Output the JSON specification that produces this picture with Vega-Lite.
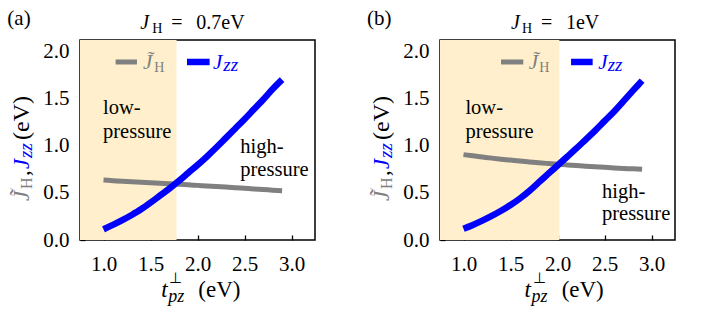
{
  "$schema": "https://vega.github.io/schema/vega-lite/v6.json",
  "background": "white",
  "padding": {"left": 6, "top": 7, "right": 0, "bottom": 0},
  "spacing": 125,
  "bounds": "flush",
  "config": {
    "font": "Liberation Serif",
    "view": {"stroke": "black", "strokeWidth": 1.5},
    "axis": {"domain": false, "grid": false, "tickSize": -5, "tickColor": "black", "tickWidth": 1.3, "labelFont": "Liberation Serif", "labelFontSize": 21, "labelColor": "black", "labelFlush": false, "labelOverlap": false},
    "axisY": {"labelPadding": 16},
    "axisX": {"labelPadding": 18},
    "text": {"font": "Liberation Serif", "fontSize": 20, "color": "black", "align": "left", "baseline": "alphabetic"}
  },
  "datasets": {
    "regions": [
      {"panel": "a", "start": 0.75, "end": 1.777},
      {"panel": "b", "start": 0.75, "end": 2.02}
    ],
    "curves": [
      {"panel": "a", "t": 1.0, "Jh": 0.635, "Jzz": 0.113},
      {"panel": "a", "t": 1.1, "Jh": 0.629, "Jzz": 0.16},
      {"panel": "a", "t": 1.2, "Jh": 0.623, "Jzz": 0.21},
      {"panel": "a", "t": 1.3, "Jh": 0.618, "Jzz": 0.265},
      {"panel": "a", "t": 1.4, "Jh": 0.612, "Jzz": 0.325},
      {"panel": "a", "t": 1.5, "Jh": 0.607, "Jzz": 0.395},
      {"panel": "a", "t": 1.6, "Jh": 0.601, "Jzz": 0.47},
      {"panel": "a", "t": 1.7, "Jh": 0.596, "Jzz": 0.545},
      {"panel": "a", "t": 1.8, "Jh": 0.59, "Jzz": 0.625},
      {"panel": "a", "t": 1.9, "Jh": 0.585, "Jzz": 0.71},
      {"panel": "a", "t": 2.0, "Jh": 0.579, "Jzz": 0.795},
      {"panel": "a", "t": 2.1, "Jh": 0.573, "Jzz": 0.885},
      {"panel": "a", "t": 2.2, "Jh": 0.567, "Jzz": 0.98},
      {"panel": "a", "t": 2.3, "Jh": 0.561, "Jzz": 1.08},
      {"panel": "a", "t": 2.4, "Jh": 0.555, "Jzz": 1.18},
      {"panel": "a", "t": 2.5, "Jh": 0.548, "Jzz": 1.28},
      {"panel": "a", "t": 2.6, "Jh": 0.541, "Jzz": 1.385},
      {"panel": "a", "t": 2.7, "Jh": 0.535, "Jzz": 1.49},
      {"panel": "a", "t": 2.8, "Jh": 0.528, "Jzz": 1.6},
      {"panel": "a", "t": 2.9, "Jh": 0.522, "Jzz": 1.7},
      {"panel": "b", "t": 1.0, "Jh": 0.905, "Jzz": 0.12},
      {"panel": "b", "t": 1.1, "Jh": 0.892, "Jzz": 0.16},
      {"panel": "b", "t": 1.2, "Jh": 0.88, "Jzz": 0.205},
      {"panel": "b", "t": 1.3, "Jh": 0.868, "Jzz": 0.255},
      {"panel": "b", "t": 1.4, "Jh": 0.857, "Jzz": 0.31},
      {"panel": "b", "t": 1.5, "Jh": 0.847, "Jzz": 0.37},
      {"panel": "b", "t": 1.6, "Jh": 0.837, "Jzz": 0.44},
      {"panel": "b", "t": 1.7, "Jh": 0.828, "Jzz": 0.52},
      {"panel": "b", "t": 1.8, "Jh": 0.819, "Jzz": 0.61},
      {"panel": "b", "t": 1.9, "Jh": 0.811, "Jzz": 0.7},
      {"panel": "b", "t": 2.0, "Jh": 0.803, "Jzz": 0.79},
      {"panel": "b", "t": 2.1, "Jh": 0.796, "Jzz": 0.88},
      {"panel": "b", "t": 2.2, "Jh": 0.789, "Jzz": 0.97},
      {"panel": "b", "t": 2.3, "Jh": 0.782, "Jzz": 1.065},
      {"panel": "b", "t": 2.4, "Jh": 0.776, "Jzz": 1.16},
      {"panel": "b", "t": 2.5, "Jh": 0.77, "Jzz": 1.26},
      {"panel": "b", "t": 2.6, "Jh": 0.764, "Jzz": 1.36},
      {"panel": "b", "t": 2.7, "Jh": 0.759, "Jzz": 1.47},
      {"panel": "b", "t": 2.8, "Jh": 0.754, "Jzz": 1.58},
      {"panel": "b", "t": 2.9, "Jh": 0.749, "Jzz": 1.69}
    ]
  },
  "hconcat": [
    {
      "width": 235, "height": 200,
      "layer": [
        {"data": {"name": "regions"}, "transform": [{"filter": "datum.panel == 'a'"}],
         "mark": {"type": "rect", "color": "#FFEFCC"},
         "encoding": {
           "x": {"field": "start", "type": "quantitative", "title": null, "scale": {"domain": [0.75, 3.25], "nice": false, "zero": false}, "axis": {"values": [1, 1.5, 2, 2.5, 3], "format": ".1f", "title": null}},
           "x2": {"field": "end"},
           "y": {"datum": 0, "type": "quantitative", "title": null, "scale": {"domain": [0, 2.12], "nice": false, "zero": false}, "axis": {"values": [0, 0.5, 1, 1.5, 2], "format": ".1f", "title": null}},
           "y2": {"datum": 2.12}}},
        {"data": {"name": "curves"}, "transform": [{"filter": "datum.panel == 'a'"}],
         "mark": {"type": "line", "color": "#808080", "strokeWidth": 5, "strokeCap": "butt", "interpolate": "monotone"},
         "encoding": {"x": {"field": "t", "type": "quantitative", "title": null}, "y": {"field": "Jh", "type": "quantitative", "title": null}}},
        {"data": {"name": "curves"}, "transform": [{"filter": "datum.panel == 'a'"}],
         "mark": {"type": "line", "color": "#0000FF", "strokeWidth": 6.5, "strokeCap": "butt", "interpolate": "monotone"},
         "encoding": {"x": {"field": "t", "type": "quantitative", "title": null}, "y": {"field": "Jzz", "type": "quantitative", "title": null}}},
        {"data": {"values": [{}]},
         "layer": [
          {"mark": {"type": "rule", "color": "#808080", "strokeWidth": 5}, "encoding": {"x": {"datum": 1.129}, "x2": {"datum": 1.356}, "y": {"datum": 1.887}}},
          {"mark": {"type": "rule", "color": "#0000FF", "strokeWidth": 6.5}, "encoding": {"x": {"datum": 1.888}, "x2": {"datum": 2.129}, "y": {"datum": 1.887}}},
          {"mark": {"type": "text", "text": "J̃", "fontStyle": "italic", "fontSize": 21, "color": "#808080"}, "encoding": {"x": {"datum": 1.42}, "y": {"datum": 1.813}}},
          {"mark": {"type": "text", "text": "H", "fontSize": 14, "color": "#808080"}, "encoding": {"x": {"datum": 1.54}, "y": {"datum": 1.781}}},
          {"mark": {"type": "text", "text": "J", "fontStyle": "italic", "fontSize": 21, "color": "#0000FF"}, "encoding": {"x": {"datum": 2.165}, "y": {"datum": 1.813}}},
          {"mark": {"type": "text", "text": "zz", "fontStyle": "italic", "fontSize": 19, "color": "#0000FF"}, "encoding": {"x": {"datum": 2.274}, "y": {"datum": 1.792}}},
          {"mark": {"type": "text", "text": "low-", "fontSize": 20.5}, "encoding": {"x": {"datum": 0.995}, "y": {"datum": 1.332}}},
          {"mark": {"type": "text", "text": "pressure", "fontSize": 20.5}, "encoding": {"x": {"datum": 0.995}, "y": {"datum": 1.078}}},
          {"mark": {"type": "text", "text": "high-", "fontSize": 20.5}, "encoding": {"x": {"datum": 2.455}, "y": {"datum": 0.922}}},
          {"mark": {"type": "text", "text": "pressure", "fontSize": 20.5}, "encoding": {"x": {"datum": 2.455}, "y": {"datum": 0.678}}},
          {"mark": {"type": "text", "text": "(a)", "fontSize": 21}, "encoding": {"x": {"datum": -0.023}, "y": {"datum": 2.279}}},
          {"mark": {"type": "text", "text": "J", "fontStyle": "italic", "fontSize": 20}, "encoding": {"x": {"datum": 1.391}, "y": {"datum": 2.237}}},
          {"mark": {"type": "text", "text": "H", "fontSize": 14}, "encoding": {"x": {"datum": 1.519}, "y": {"datum": 2.194}}},
          {"mark": {"type": "text", "text": "=", "fontSize": 20}, "encoding": {"x": {"datum": 1.721}, "y": {"datum": 2.237}}},
          {"mark": {"type": "text", "text": "0.7eV", "fontSize": 20}, "encoding": {"x": {"datum": 1.987}, "y": {"datum": 2.237}}},
          {"mark": {"type": "text", "text": "t", "fontStyle": "italic", "fontSize": 23}, "encoding": {"x": {"datum": 1.615}, "y": {"datum": -0.604}}},
          {"mark": {"type": "text", "text": "⊥", "fontSize": 15}, "encoding": {"x": {"datum": 1.7}, "y": {"datum": -0.456}}},
          {"mark": {"type": "text", "text": "pz", "fontStyle": "italic", "fontSize": 18}, "encoding": {"x": {"datum": 1.689}, "y": {"datum": -0.657}}},
          {"mark": {"type": "text", "text": "(eV)", "fontSize": 23}, "encoding": {"x": {"datum": 2.009}, "y": {"datum": -0.604}}},
          {"mark": {"type": "text", "text": "J̃", "fontStyle": "italic", "fontSize": 23, "angle": 270, "color": "#808080"}, "encoding": {"x": {"datum": 0.212}, "y": {"datum": 0.413}}},
          {"mark": {"type": "text", "text": "H", "fontSize": 16, "angle": 270, "color": "#808080"}, "encoding": {"x": {"datum": 0.244}, "y": {"datum": 0.54}}},
          {"mark": {"type": "text", "text": ",", "fontSize": 23, "angle": 270}, "encoding": {"x": {"datum": 0.212}, "y": {"datum": 0.678}}},
          {"mark": {"type": "text", "text": "J", "fontStyle": "italic", "fontSize": 23, "angle": 270, "color": "#0000FF"}, "encoding": {"x": {"datum": 0.212}, "y": {"datum": 0.753}}},
          {"mark": {"type": "text", "text": "zz", "fontStyle": "italic", "fontSize": 19, "angle": 270, "color": "#0000FF"}, "encoding": {"x": {"datum": 0.244}, "y": {"datum": 0.869}}},
          {"mark": {"type": "text", "text": "(eV)", "fontSize": 24, "angle": 270}, "encoding": {"x": {"datum": 0.212}, "y": {"datum": 1.06}}}
         ]}
      ]
    },
    {
      "width": 235, "height": 200,
      "layer": [
        {"data": {"name": "regions"}, "transform": [{"filter": "datum.panel == 'b'"}],
         "mark": {"type": "rect", "color": "#FFEFCC"},
         "encoding": {
           "x": {"field": "start", "type": "quantitative", "title": null, "scale": {"domain": [0.75, 3.25], "nice": false, "zero": false}, "axis": {"values": [1, 1.5, 2, 2.5, 3], "format": ".1f", "title": null}},
           "x2": {"field": "end"},
           "y": {"datum": 0, "type": "quantitative", "title": null, "scale": {"domain": [0, 2.12], "nice": false, "zero": false}, "axis": {"values": [0, 0.5, 1, 1.5, 2], "format": ".1f", "title": null}},
           "y2": {"datum": 2.12}}},
        {"data": {"name": "curves"}, "transform": [{"filter": "datum.panel == 'b'"}],
         "mark": {"type": "line", "color": "#808080", "strokeWidth": 5, "strokeCap": "butt", "interpolate": "monotone"},
         "encoding": {"x": {"field": "t", "type": "quantitative", "title": null}, "y": {"field": "Jh", "type": "quantitative", "title": null}}},
        {"data": {"name": "curves"}, "transform": [{"filter": "datum.panel == 'b'"}],
         "mark": {"type": "line", "color": "#0000FF", "strokeWidth": 6.5, "strokeCap": "butt", "interpolate": "monotone"},
         "encoding": {"x": {"field": "t", "type": "quantitative", "title": null}, "y": {"field": "Jzz", "type": "quantitative", "title": null}}},
        {"data": {"values": [{}]},
         "layer": [
          {"mark": {"type": "rule", "color": "#808080", "strokeWidth": 5}, "encoding": {"x": {"datum": 1.399}, "x2": {"datum": 1.636}, "y": {"datum": 1.887}}},
          {"mark": {"type": "rule", "color": "#0000FF", "strokeWidth": 6.5}, "encoding": {"x": {"datum": 2.144}, "x2": {"datum": 2.374}, "y": {"datum": 1.887}}},
          {"mark": {"type": "text", "text": "J̃", "fontStyle": "italic", "fontSize": 21, "color": "#808080"}, "encoding": {"x": {"datum": 1.694}, "y": {"datum": 1.813}}},
          {"mark": {"type": "text", "text": "H", "fontSize": 14, "color": "#808080"}, "encoding": {"x": {"datum": 1.806}, "y": {"datum": 1.781}}},
          {"mark": {"type": "text", "text": "J", "fontStyle": "italic", "fontSize": 21, "color": "#0000FF"}, "encoding": {"x": {"datum": 2.434}, "y": {"datum": 1.813}}},
          {"mark": {"type": "text", "text": "zz", "fontStyle": "italic", "fontSize": 19, "color": "#0000FF"}, "encoding": {"x": {"datum": 2.534}, "y": {"datum": 1.792}}},
          {"mark": {"type": "text", "text": "low-", "fontSize": 20.5}, "encoding": {"x": {"datum": 1.02}, "y": {"datum": 1.332}}},
          {"mark": {"type": "text", "text": "pressure", "fontSize": 20.5}, "encoding": {"x": {"datum": 1.02}, "y": {"datum": 1.078}}},
          {"mark": {"type": "text", "text": "high-", "fontSize": 20.5}, "encoding": {"x": {"datum": 2.473}, "y": {"datum": 0.445}}},
          {"mark": {"type": "text", "text": "pressure", "fontSize": 20.5}, "encoding": {"x": {"datum": 2.473}, "y": {"datum": 0.212}}},
          {"mark": {"type": "text", "text": "(b)", "fontSize": 21}, "encoding": {"x": {"datum": -0.027}, "y": {"datum": 2.279}}},
          {"mark": {"type": "text", "text": "J", "fontStyle": "italic", "fontSize": 20}, "encoding": {"x": {"datum": 1.505}, "y": {"datum": 2.237}}},
          {"mark": {"type": "text", "text": "H", "fontSize": 14}, "encoding": {"x": {"datum": 1.622}, "y": {"datum": 2.194}}},
          {"mark": {"type": "text", "text": "=", "fontSize": 20}, "encoding": {"x": {"datum": 1.824}, "y": {"datum": 2.237}}},
          {"mark": {"type": "text", "text": "1eV", "fontSize": 20}, "encoding": {"x": {"datum": 2.09}, "y": {"datum": 2.237}}},
          {"mark": {"type": "text", "text": "t", "fontStyle": "italic", "fontSize": 23}, "encoding": {"x": {"datum": 1.65}, "y": {"datum": -0.604}}},
          {"mark": {"type": "text", "text": "⊥", "fontSize": 15}, "encoding": {"x": {"datum": 1.735}, "y": {"datum": -0.456}}},
          {"mark": {"type": "text", "text": "pz", "fontStyle": "italic", "fontSize": 18}, "encoding": {"x": {"datum": 1.724}, "y": {"datum": -0.657}}},
          {"mark": {"type": "text", "text": "(eV)", "fontSize": 23}, "encoding": {"x": {"datum": 2.044}, "y": {"datum": -0.604}}},
          {"mark": {"type": "text", "text": "J̃", "fontStyle": "italic", "fontSize": 23, "angle": 270, "color": "#808080"}, "encoding": {"x": {"datum": 0.212}, "y": {"datum": 0.413}}},
          {"mark": {"type": "text", "text": "H", "fontSize": 16, "angle": 270, "color": "#808080"}, "encoding": {"x": {"datum": 0.244}, "y": {"datum": 0.54}}},
          {"mark": {"type": "text", "text": ",", "fontSize": 23, "angle": 270}, "encoding": {"x": {"datum": 0.212}, "y": {"datum": 0.678}}},
          {"mark": {"type": "text", "text": "J", "fontStyle": "italic", "fontSize": 23, "angle": 270, "color": "#0000FF"}, "encoding": {"x": {"datum": 0.212}, "y": {"datum": 0.753}}},
          {"mark": {"type": "text", "text": "zz", "fontStyle": "italic", "fontSize": 19, "angle": 270, "color": "#0000FF"}, "encoding": {"x": {"datum": 0.244}, "y": {"datum": 0.869}}},
          {"mark": {"type": "text", "text": "(eV)", "fontSize": 24, "angle": 270}, "encoding": {"x": {"datum": 0.212}, "y": {"datum": 1.06}}}
         ]}
      ]
    }
  ]
}
